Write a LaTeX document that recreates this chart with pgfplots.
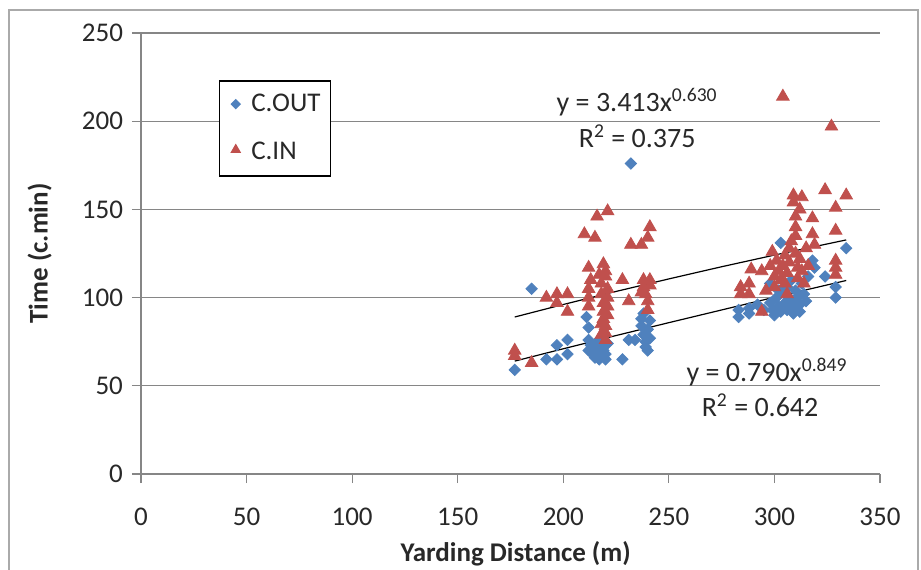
\documentclass[border=0pt]{standalone}
\usepackage{pgfplots}
\pgfplotsset{compat=1.18}
\usepackage{fontspec}
\setmainfont{Carlito}
\definecolor{cout}{HTML}{4F81BD}
\definecolor{cin}{HTML}{C0504D}
\definecolor{gridc}{RGB}{134,134,134}
\definecolor{framec}{RGB}{170,170,170}
\definecolor{txt}{RGB}{40,40,40}
\pgfplotsset{
  legout/.style={legend image code/.code={\path (0,0) (0.36cm,0); \draw[##1, mark size=1.5pt] plot coordinates {(0.17cm,0cm)};}},
  legin/.style={legend image code/.code={\path (0,0) (0.36cm,0); \draw[##1, mark size=2.4pt] plot coordinates {(0.17cm,0.05cm)};}},
}

\begin{document}
\begin{tikzpicture}
\useasboundingbox (-70.5pt,-47.5pt) rectangle (390pt,237pt);
\draw[framec, line width=0.6pt] (-66pt,-60pt) -- (-66pt,232pt) -- (388.5pt,232pt) -- (388.5pt,-60pt);
\begin{axis}[
  at={(0,0)}, anchor=south west,
  scale only axis, width=369.5pt, height=220.5pt,
  xmin=0, xmax=350, ymin=0, ymax=250,
  xtick={0,50,...,350}, ytick={0,50,...,250},
  axis x line*=bottom, axis y line*=left,
  axis line style={gridc, line width=0.6pt},
  ymajorgrids, grid style={gridc, line width=0.6pt},
  tick align=outside, major tick length=4.5pt,
  tick style={gridc, line width=0.6pt},
  /pgf/number format/assume math mode=true,
  ticklabel style={font=\fontsize{13.5}{16}\selectfont, text=txt},
  xticklabel style={anchor=center, yshift=-17pt},
  yticklabel style={xshift=-1pt},
  xlabel={Yarding Distance (m)}, ylabel={Time (c.min)},
  label style={font=\bfseries\fontsize{13.5}{16}\selectfont, text=txt},
  xlabel style={at={(axis description cs:0.507,0)}, anchor=center, yshift=-40pt},
  ylabel style={at={(axis description cs:-0.137,0.5)}, anchor=center},
  legend style={at={(axis cs:36.8,223.3)}, anchor=north west, draw=black, line width=0.7pt,
    fill=white, font=\fontsize{13.5}{16}\selectfont, inner xsep=3pt, inner ysep=4.5pt,
    row sep=10pt, text=txt},
  legend cell align=left,
  clip=false,
]
\addplot[only marks, mark=square*, mark size=2.0pt, mark options={rotate=45, fill=cout, draw=cout}, legout]
  table {
x y
177 59
185 105
192 65
197 65
197 73
202 76
202 68
211 89
212 83
212 76
212 70
213 73
214 68
215 66
215 71
216 75
216 69
217 65
218 67
218 72
219 78
219 70
220 65
220 68
221 74
228 65
231 76
234 76
232 176
237 84
238 79
238 91
239 72
239 75
240 70
240 82
241 87
241 77
237 88
283 93
283 89
288 91
288 94
292 96
295 93
298 108
298 97
299 93
300 90
301 100
302 95
303 131
303 92
304 103
305 97
306 93
306 106
307 100
308 95
309 91
309 98
310 104
310 94
311 100
312 96
312 92
313 108
314 102
315 98
316 112
318 121
319 117
324 112
329 106
329 100
334 128
308 110
302 104
};
\addlegendentry{C.OUT}
\addplot[only marks, mark=triangle*, mark size=3.6pt, mark options={fill=cin, draw=cin}, legin]
  table {
x y
177 70
177 67
185 63
192 100
197 102
197 97
202 102
202 92
210 136
215 134
216 146
221 149
212 117
212 105
212 100
212 95
213 110
217 113
218 108
218 102
219 119
219 97
219 92
219 88
220 84
220 80
220 76
220 115
220 112
221 105
221 100
221 95
221 90
218 85
218 79
228 110
231 98
232 130
237 130
241 140
240 134
238 110
238 106
239 102
240 98
240 93
241 107
237 103
241 110
284 106
284 102
288 108
288 102
289 116
294 115
294 92
299 126
298 118
300 112
300 106
301 121
302 115
303 110
304 214
304 118
305 124
305 108
306 114
307 128
307 120
308 132
309 158
309 154
310 146
310 140
310 135
310 125
311 117
311 111
312 150
312 122
313 157
313 115
314 108
315 128
316 118
318 145
318 136
319 130
324 161
327 197
329 151
329 138
329 121
329 117
329 113
334 158
296 104
306 102
};
\addlegendentry{C.IN}
% power trend lines (values of the fitted curves read at several distances)
\addplot[black, line width=0.6pt, forget plot] coordinates {
(177,89.0) (200,96.1) (225,103.5) (250,110.6) (275,117.5) (300,124.1) (334,132.7)};
\addplot[black, line width=0.6pt, forget plot] coordinates {
(177,64.0) (200,71.0) (225,78.5) (250,85.8) (275,93.0) (300,100.2) (334,109.7)};
\node[font=\fontsize{14}{16}\selectfont, text=txt] at (axis cs:235,210.9) {y = 3.413x\textsuperscript{0.630}};
\node[font=\fontsize{14}{16}\selectfont, text=txt] at (axis cs:235,191.6) {R\textsuperscript{2} = 0.375};
\node[font=\fontsize{14}{16}\selectfont, text=txt] at (axis cs:296.5,57.8) {y = 0.790x\textsuperscript{0.849}};
\node[font=\fontsize{14}{16}\selectfont, text=txt] at (axis cs:293.2,39.1) {R\textsuperscript{2} = 0.642};
\end{axis}
\end{tikzpicture}
\end{document}
